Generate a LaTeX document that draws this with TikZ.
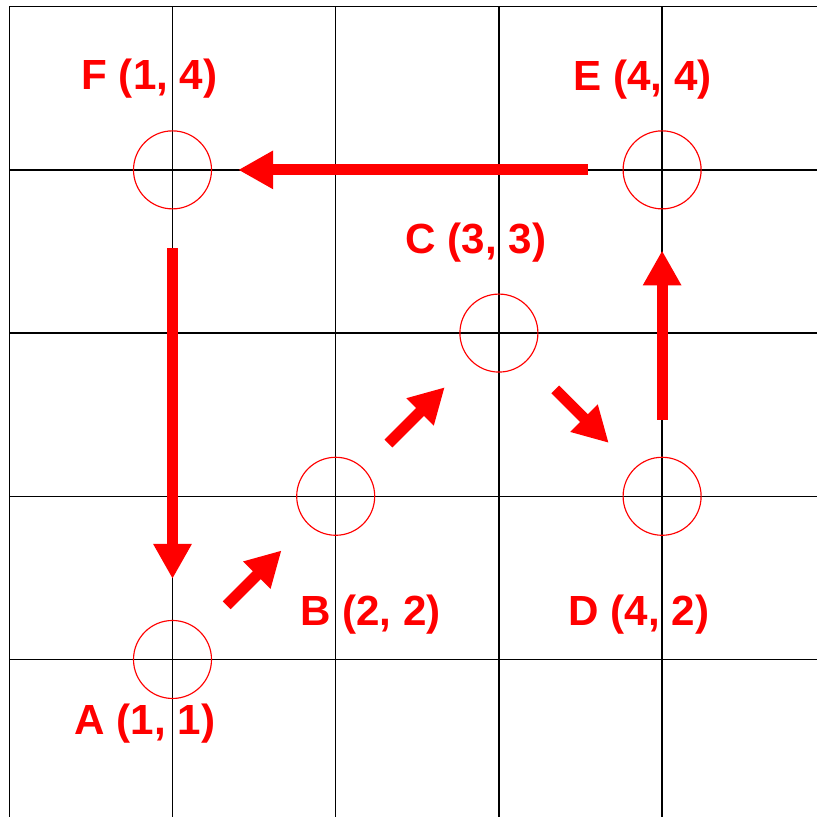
\documentclass[tikz,border=0pt]{standalone}
\usepackage{fontspec}
\setmainfont{Liberation Sans}
\usetikzlibrary{arrows.meta}

\begin{document}
\begin{tikzpicture}[x=2cm, y=2cm,
  spot/.style={circle, draw=red, line width=0.4pt, inner sep=0pt, minimum size=0.956cm},
  lbl/.style={text=red, font=\fontsize{14.7}{17}\selectfont\bfseries, anchor=base, inner sep=0pt},
  move/.style={draw=red, line width=3.84pt, -{Triangle[length=12.2pt, width=12.6pt]},
    shorten <=12.9pt, shorten >=12.9pt}]
  % Canvas
  \clip (-0.057,0.035) rectangle (4.949,5.041);
  % Grid
  \draw[line width=0.45pt, step=2cm] (0,0) grid (5,5);
  % Points
  \foreach \n/\x/\y in {A/1/1, B/2/2, C/3/3, D/4/2, E/4/4, F/1/4}
    \node[spot] (\n) at (\x,\y) {};
  % Labels
  \node[lbl] (lblF) at ([shift={(-0.141,0.49)}]F) {F (1, 4)};
  \node[lbl] (lblE) at ([shift={(-0.12,0.484)}]E) {E (4, 4)};
  \node[lbl] (lblC) at ([shift={(-0.141,0.49)}]C) {C (3, 3)};
  \node[lbl] (lblB) at ([shift={(0.214,-0.79)}]B) {B (2, 2)};
  \node[lbl] (lblD) at ([shift={(-0.141,-0.79)}]D) {D (4, 2)};
  \node[lbl] (lblA) at ([shift={(-0.168,-0.46)}]A) {A (1, 1)};
  % Path
  \draw[move, shorten <=13.6pt, shorten >=14.3pt] (F) -- (A);
  \draw[move] (A) -- (B);
  \draw[move, shorten <=12.2pt] (B) -- (C);
  \draw[move, shorten <=14pt, shorten >=12.5pt] (C) -- (D);
  \draw[move, shorten >=14.3pt] (D) -- (E);
  \draw[move, shorten <=12.2pt, shorten >=9.1pt] (E) -- (F);
\end{tikzpicture}
\end{document}
